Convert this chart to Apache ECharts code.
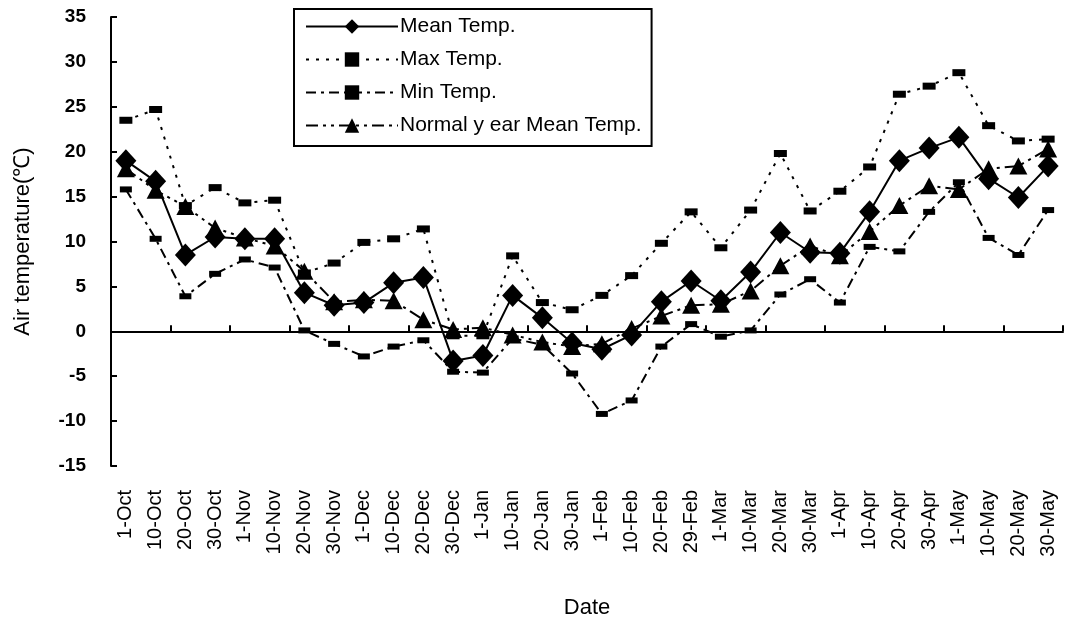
<!DOCTYPE html>
<html>
<head>
<meta charset="utf-8">
<script src="https://cdn.jsdelivr.net/npm/echarts@6/dist/echarts.min.js"></script>
<style>
  html, body {margin:0; padding:0; background:#fff;}
  #chart {width:1068px; height:624px;}
</style>
</head>
<body>
<div id="chart"></div>
<script>
const dates = ['1-Oct','10-Oct','20-Oct','30-Oct','1-Nov','10-Nov','20-Nov','30-Nov','1-Dec','10-Dec','20-Dec','30-Dec',
    '1-Jan','10-Jan','20-Jan','30-Jan','1-Feb','10-Feb','20-Feb','29-Feb','1-Mar','10-Mar','20-Mar','30-Mar',
    '1-Apr','10-Apr','20-Apr','30-Apr','1-May','10-May','20-May','30-May']

const meanTemp = [19.0,16.7,8.5,10.5,10.3,10.3,4.3,2.9,3.2,5.4,6.0,-3.3,-2.7,4.0,1.5,-1.3,-2.0,-0.4,3.3,5.6,
    3.4,6.6,11.0,8.8,8.7,13.3,19.0,20.4,21.6,17.0,14.9,18.4]
const maxTemp = [23.5,24.7,14.0,16.0,14.3,14.6,6.5,7.6,9.9,10.3,11.4,-0.5,-0.5,8.4,3.2,2.4,4.0,6.2,9.8,13.3,
    9.3,13.5,19.8,13.4,15.6,18.3,26.4,27.3,28.8,22.9,21.2,21.4]
const minTemp = [15.8,10.3,3.9,6.4,8.0,7.1,0.1,-1.4,-2.8,-1.7,-1.0,-4.5,-4.6,-0.8,-1.5,-4.7,-9.2,-7.7,-1.7,0.8,
    -0.6,0.1,4.1,5.8,3.2,9.4,8.9,13.3,16.6,10.4,8.5,13.5]
const normalTemp = [18.1,15.7,13.9,11.5,10.4,9.5,6.7,3.3,3.5,3.4,1.3,0.2,0.4,-0.4,-1.2,-1.7,-1.4,0.3,1.7,2.9,
    3.0,4.5,7.3,9.5,8.4,11.1,14.0,16.2,15.8,18.1,18.4,20.3]

const font = "'Liberation Sans', Arial, sans-serif"

let myChart = echarts.init(document.getElementById('chart'))

let option = {
    animation: false,
    backgroundColor: '#fff',
    textStyle: {fontFamily: font, color: '#000'},
    grid: {left: 111, top: 17, right: 5, bottom: 153, containLabel: false},
    legend: {
        orient: 'vertical',
        left: 294,
        top: 9,
        padding: [7, 10, 10, 11],
        itemWidth: 92,
        itemHeight: 18,
        itemGap: 12,
        borderColor: '#000',
        borderWidth: 2,
        backgroundColor: '#fff',
        textStyle: {fontFamily: font, fontSize: 21, color: '#000', padding: [0, 0, 0, -3]},
        data: ['Mean Temp.', 'Max Temp.', 'Min Temp.', 'Normal y ear Mean Temp.']
    },
    xAxis: [
        {
            // axis line drawn at zero with its ticks
            type: 'category',
            data: dates,
            position: 'top',
            boundaryGap: true,
            axisLine: {onZero: true, lineStyle: {color: '#000', width: 2}},
            axisTick: {show: true, inside: false, length: 6, lineStyle: {color: '#000', width: 2}},
            axisLabel: {show: false},
            splitLine: {show: false}
        },
        {
            // labels at the bottom
            type: 'category',
            data: dates,
            position: 'bottom',
            boundaryGap: true,
            axisLine: {show: false, onZero: false},
            axisTick: {show: false},
            axisLabel: {rotate: 90, fontSize: 20, color: '#000', fontFamily: font, margin: 24, interval: 0},
            name: 'Date',
            nameLocation: 'middle',
            nameGap: 131,
            nameTextStyle: {fontSize: 22, color: '#000', fontFamily: font, verticalAlign: 'top'},
            splitLine: {show: false}
        }
    ],
    yAxis: {
        type: 'value',
        min: -15,
        max: 35,
        interval: 5,
        axisLine: {show: true, onZero: false, lineStyle: {color: '#000', width: 2}},
        axisTick: {show: true, inside: true, length: 6, lineStyle: {color: '#000', width: 2}},
        axisLabel: {fontSize: 19, fontWeight: 'bold', color: '#000', fontFamily: font, margin: 25},
        splitLine: {show: false},
        name: 'Air temperature(℃)',
        nameLocation: 'middle',
        nameRotate: 90,
        nameGap: 77,
        nameTextStyle: {fontSize: 22, color: '#000', fontFamily: font}
    },
    series: [
        {
            name: 'Mean Temp.',
            type: 'line',
            data: meanTemp,
            symbol: 'diamond',
            symbolSize: [21, 23],
            showAllSymbol: true,
            z: 5,
            itemStyle: {color: '#000'},
            lineStyle: {color: '#000', width: 2, type: 'solid'}
        },
        {
            name: 'Max Temp.',
            type: 'line',
            data: maxTemp,
            symbol: 'rect',
            symbolSize: [13, 7],
            showAllSymbol: true,
            z: 3,
            itemStyle: {color: '#000'},
            lineStyle: {color: '#000', width: 2, type: [3, 7]}
        },
        {
            name: 'Min Temp.',
            type: 'line',
            data: minTemp,
            symbol: 'rect',
            symbolSize: [12, 6],
            showAllSymbol: true,
            z: 3,
            itemStyle: {color: '#000'},
            lineStyle: {color: '#000', width: 2, type: [10, 5, 3, 5]}
        },
        {
            name: 'Normal y ear Mean Temp.',
            type: 'line',
            data: normalTemp,
            symbol: 'triangle',
            symbolSize: [18, 17],
            showAllSymbol: true,
            z: 4,
            itemStyle: {color: '#000'},
            lineStyle: {color: '#000', width: 2, type: [12, 5, 3, 5, 3, 5]}
        }
    ]
}

myChart.setOption(option)
</script>
</body>
</html>
